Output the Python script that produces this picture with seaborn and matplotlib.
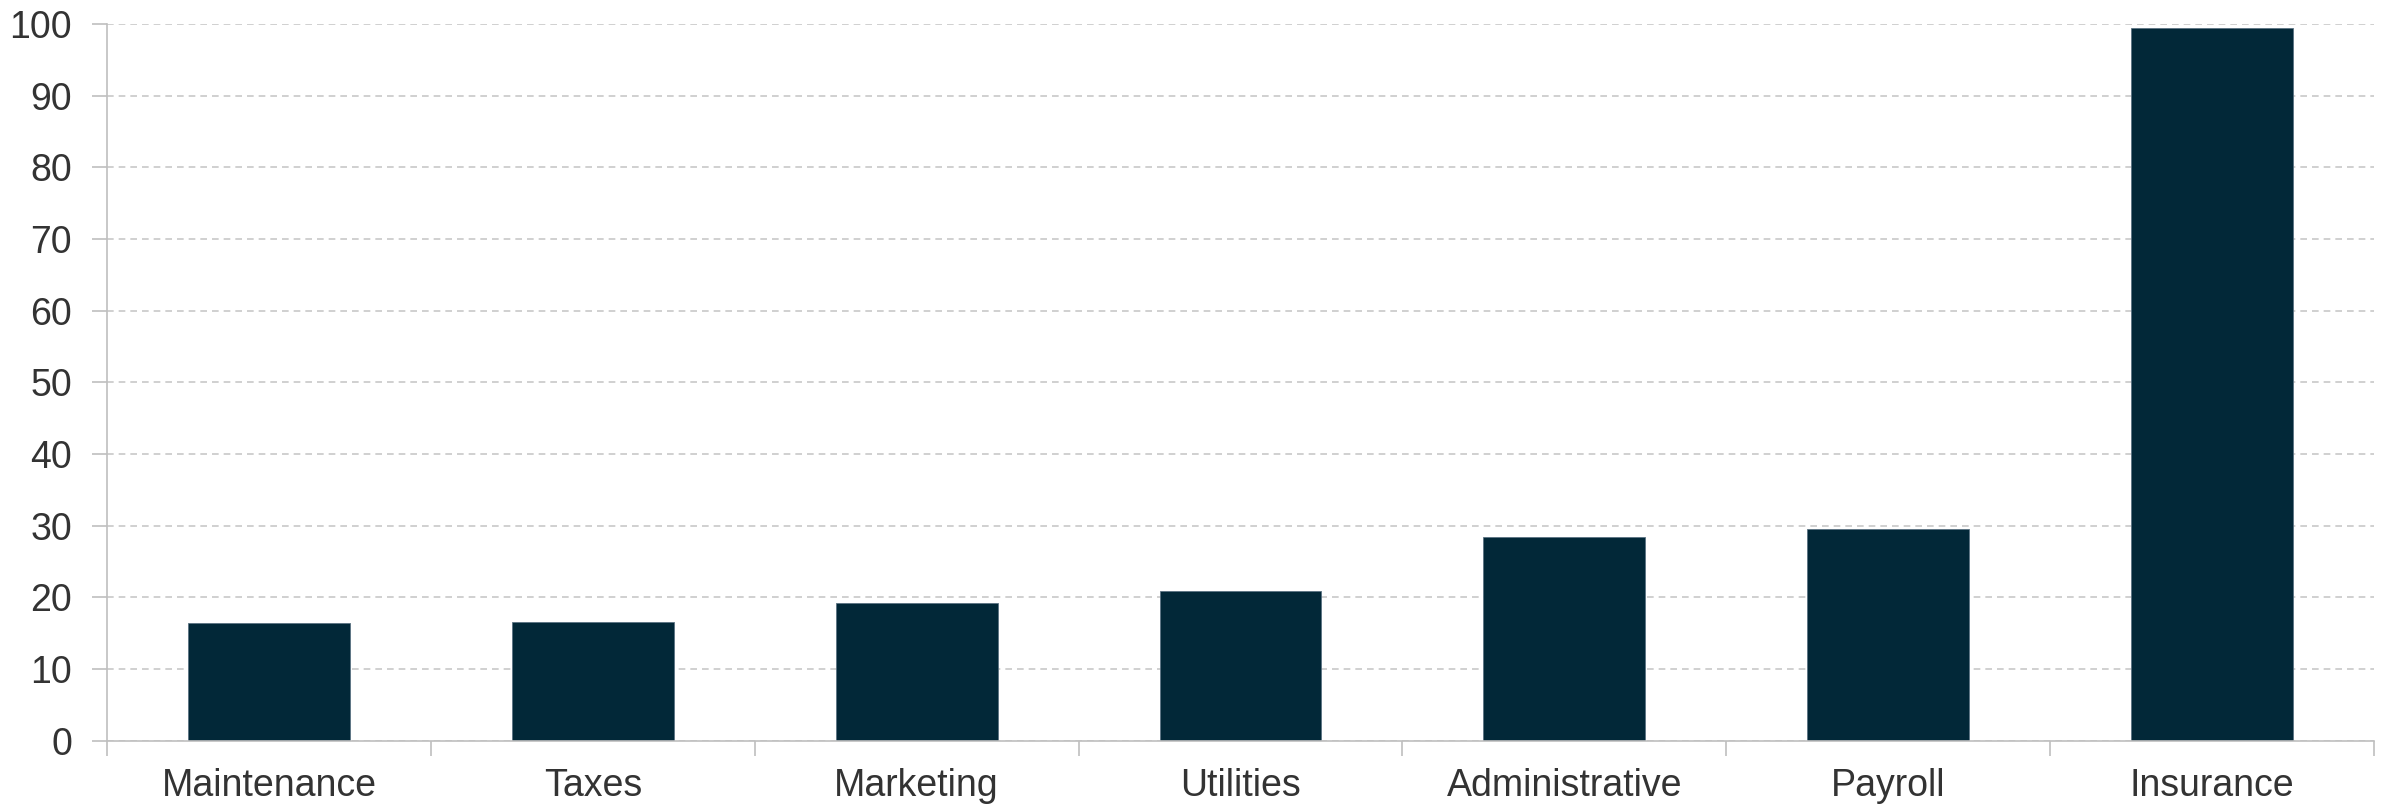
import matplotlib
matplotlib.use("Agg")
import matplotlib.pyplot as plt
from matplotlib.ticker import FixedLocator, MultipleLocator
import seaborn as sns
import pandas as pd

categories = ["Maintenance", "Taxes", "Marketing", "Utilities",
              "Administrative", "Payroll", "Insurance"]
values = [16.4, 16.55, 19.25, 20.9, 28.45, 29.5, 99.5]

y_ticks = list(range(0, 101, 10))

sns.set_theme(style="white")
plt.rcParams["font.family"] = ["Liberation Sans", "DejaVu Sans"]

df = pd.DataFrame({"category": categories, "value": values})

fig = plt.figure(figsize=(23.87, 8.06), dpi=100)
ax = fig.add_axes([0.0448, 0.081, 0.9498, 0.889])

sns.barplot(data=df, x="category", y="value", order=categories,
            color="#022838", saturation=1, width=0.5,
            edgecolor="#5a7282", linewidth=0.6, ax=ax, zorder=3)

ax.set_xlim(-0.5, len(categories) - 0.5)
ax.set_ylim(0, 100)
ax.yaxis.set_major_locator(FixedLocator(y_ticks))
ax.grid(axis="y", color="#c8c8c8", linestyle=(0, (4, 3)), linewidth=1.2, zorder=0)
ax.grid(axis="x", visible=False)

# category boundaries carry the tick marks, labels sit centred under bars
ax.xaxis.set_minor_locator(MultipleLocator(1, offset=0.5))
ax.tick_params(axis="x", which="major", length=0, pad=20, labelsize=27, labelcolor="#333333")
ax.tick_params(axis="x", which="minor", length=11, width=1.2, color="#bfbfbf", direction="out")
ax.tick_params(axis="y", which="major", length=11, width=1.2, color="#bfbfbf", pad=14,
               labelsize=27, labelcolor="#333333", direction="out")
ax.xaxis.set_ticks_position("bottom")
ax.yaxis.set_ticks_position("left")

for side in ["top", "right"]:
    ax.spines[side].set_visible(False)
for side in ["left", "bottom"]:
    ax.spines[side].set_color("#bfbfbf")
    ax.spines[side].set_linewidth(1.2)
    ax.spines[side].set_zorder(4)

ax.set_xlabel("")
ax.set_ylabel("")

fig.savefig("out.png", dpi=100, facecolor="white")
